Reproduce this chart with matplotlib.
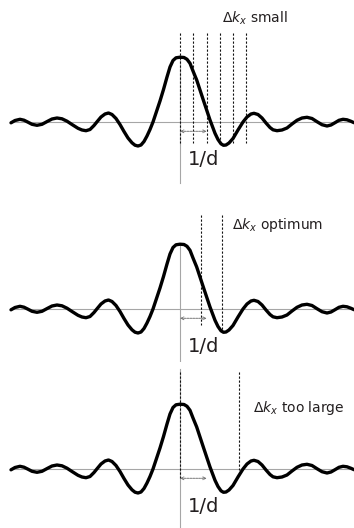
import matplotlib
matplotlib.use("Agg")
import matplotlib.pyplot as plt

# Curve: kx offset from the centre, amplitude above the baseline (arbitrary units)
kx = [-169, -165, -160, -156, -152, -148, -143, -138, -133, -128, -123, -118, -113, -108,
      -102, -98, -94, -90, -86, -83, -79, -75, -71.5, -68, -64, -60, -56, -52, -48, -45,
      -42, -39, -36, -33, -30, -27, -24, -20, -16.5, -13, -10, -7, -4, 0, 4, 7, 10, 13,
      16.7, 23.3, 30, 35, 38, 41, 43.5, 46, 49, 53, 58, 63, 67, 71, 74, 78, 82, 86, 90,
      93, 97, 102, 107, 112, 117, 122, 127, 132, 137, 142, 147, 151, 155, 159, 163, 167,
      171, 174]
amp = [-0.5, 1.8, 3.0, 2.1, 0.1, -2.0, -3.0, -2.0, 0.7, 3.3, 4.3, 3.5, 1.1, -2.2,
       -6.0, -7.7, -8.4, -7.2, -3.2, 0.5, 5.3, 8.3, 9.3, 7.8, 3.8, -2.2, -9.2, -15.7, -20.5, -22.9,
       -23.7, -22.7, -19.2, -13.7, -7.2, 0.3, 9.3, 21.3, 32.8, 45.3, 55.3, 61.8, 64.5, 65.1, 64.8, 63.0, 59.0, 51.3,
       42.3, 22.3, 2.3, -11.0, -17.2, -21.5, -23.0, -22.7, -20.7, -16.2, -7.7, 0.3, 5.3, 8.3, 9.0, 7.8, 4.3, -0.7, -5.2,
       -7.5, -8.4, -7.7, -5.7, -1.7, 2.0, 4.3, 5.0, 3.8, 0.6, -2.4, -3.7, -2.7, -0.4, 2.0, 3.0, 2.5,
       1.0, -0.4]

# Sampling lines (kx positions) in each panel
small_lines = [0, 13.3, 26.7, 40, 53.3, 66]
optimum_lines = [20.7, 41.7]
large_lines = [0, 59]
inv_d = 26.7  # length of the 1/d arrow

panel_labels = [r"$\Delta k_x$ small", r"$\Delta k_x$ optimum", r"$\Delta k_x$ too large"]
panel_lines = [small_lines, optimum_lines, large_lines]
line_bottoms = [[-21] * 6, [-16, -22], [-9, -1]]
line_tops = [89, 94, 97.6]
label_pos = [(41.7, 99.6), (51.7, 80), (72.7, 57.6)]

# panel geometry in pixels (top, bottom, baseline y)
panels_px = [(0, 185, 122.3), (185, 362, 309.3), (362, 528, 469.3)]
vline_ranges = [(65, -61), (64, -53), (100, -59)]

W, H = 354, 528
fig = plt.figure(figsize=(W / 100, H / 100), dpi=100)

for i, (top, bot, base) in enumerate(panels_px):
    ax = fig.add_axes([0, 1 - bot / H, 1, (bot - top) / H])
    ax.set_xlim(-180, W - 180)
    ax.set_ylim(base - bot, base - top)
    ax.axis("off")
    # baseline and vertical axis
    ax.plot([-170, 174], [0, 0], color="#a6a6a6", lw=0.8, zorder=1)
    v0, v1 = vline_ranges[i]
    ax.plot([0, 0], [v0, v1], color="#a6a6a6", lw=0.8, zorder=1)
    # dotted sampling lines
    for x, yb in zip(panel_lines[i], line_bottoms[i]):
        ax.plot([x, x], [line_tops[i], yb], color="#111111", lw=0.8,
                linestyle=(0, (2, 1.6)), zorder=2)
    # the curve
    ax.plot(kx, amp, color="black", lw=2.4, solid_capstyle="round",
            solid_joinstyle="round", zorder=3)
    # 1/d arrow
    ax.annotate("", xy=(inv_d, -9), xytext=(0, -9),
                arrowprops=dict(arrowstyle="<->", color="#777777", lw=0.7,
                                linestyle=(0, (2, 1)), shrinkA=0, shrinkB=0,
                                mutation_scale=5), zorder=2)
    ax.text(8.3, -43, "1/d", fontsize=14, color="#231f20",
            family="DejaVu Sans", va="baseline", ha="left")
    lx, ly = label_pos[i]
    ax.text(lx, ly, panel_labels[i], fontsize=10, color="#231f20",
            family="DejaVu Sans", va="baseline", ha="left")

fig.savefig("out.png", dpi=100)
